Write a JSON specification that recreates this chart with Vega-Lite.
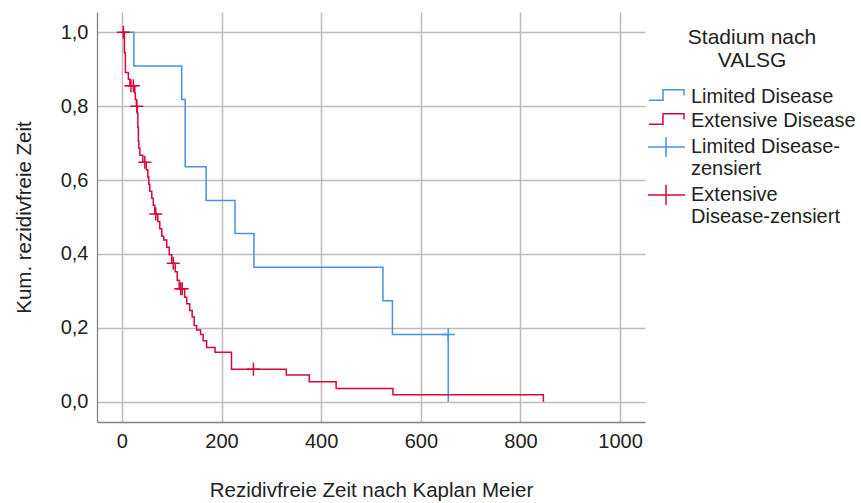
{
  "$schema": "https://vega.github.io/schema/vega-lite/v6.json",
  "width": 548,
  "height": 410,
  "autosize": {"type": "none"},
  "padding": {"left": 97, "top": 12, "right": 216, "bottom": 81},
  "background": "white",
  "config": {
    "view": {"stroke": null},
    "font": "Liberation Sans",
    "axis": {
      "grid": true,
      "gridColor": "#bcbcbc",
      "gridWidth": 1.5,
      "domainColor": "#808080",
      "domainWidth": 1.3,
      "ticks": false,
      "tickSize": 0,
      "labelFont": "Liberation Sans",
      "labelFontSize": 20,
      "labelColor": "#222222",
      "titleFont": "Liberation Sans",
      "titleFontSize": 20.5,
      "titleFontWeight": "normal",
      "titleColor": "#222222"
    }
  },
  "datasets": {
    "lines": [
      {"g": "Limited Disease", "i": 0, "t": 0, "s": 1.0},
      {"g": "Limited Disease", "i": 1, "t": 24, "s": 0.909},
      {"g": "Limited Disease", "i": 2, "t": 120, "s": 0.818},
      {"g": "Limited Disease", "i": 3, "t": 127, "s": 0.727},
      {"g": "Limited Disease", "i": 4, "t": 127, "s": 0.636},
      {"g": "Limited Disease", "i": 5, "t": 169, "s": 0.545},
      {"g": "Limited Disease", "i": 6, "t": 227, "s": 0.455},
      {"g": "Limited Disease", "i": 7, "t": 265, "s": 0.364},
      {"g": "Limited Disease", "i": 8, "t": 524, "s": 0.273},
      {"g": "Limited Disease", "i": 9, "t": 543, "s": 0.182},
      {"g": "Limited Disease", "i": 10, "t": 655, "s": 0.0},
      {"g": "Extensive Disease", "i": 0, "t": 0, "s": 1.0},
      {"g": "Extensive Disease", "i": 1, "t": 5, "s": 0.945},
      {"g": "Extensive Disease", "i": 2, "t": 7, "s": 0.891},
      {"g": "Extensive Disease", "i": 3, "t": 13, "s": 0.873},
      {"g": "Extensive Disease", "i": 4, "t": 16, "s": 0.855},
      {"g": "Extensive Disease", "i": 5, "t": 26, "s": 0.836},
      {"g": "Extensive Disease", "i": 6, "t": 27, "s": 0.818},
      {"g": "Extensive Disease", "i": 7, "t": 29, "s": 0.8},
      {"g": "Extensive Disease", "i": 8, "t": 31, "s": 0.781},
      {"g": "Extensive Disease", "i": 9, "t": 32, "s": 0.743},
      {"g": "Extensive Disease", "i": 10, "t": 33, "s": 0.705},
      {"g": "Extensive Disease", "i": 11, "t": 34, "s": 0.686},
      {"g": "Extensive Disease", "i": 12, "t": 36, "s": 0.667},
      {"g": "Extensive Disease", "i": 13, "t": 42, "s": 0.648},
      {"g": "Extensive Disease", "i": 14, "t": 49, "s": 0.628},
      {"g": "Extensive Disease", "i": 15, "t": 52, "s": 0.608},
      {"g": "Extensive Disease", "i": 16, "t": 54, "s": 0.589},
      {"g": "Extensive Disease", "i": 17, "t": 56, "s": 0.57},
      {"g": "Extensive Disease", "i": 18, "t": 60, "s": 0.551},
      {"g": "Extensive Disease", "i": 19, "t": 63, "s": 0.532},
      {"g": "Extensive Disease", "i": 20, "t": 66, "s": 0.508},
      {"g": "Extensive Disease", "i": 21, "t": 72, "s": 0.488},
      {"g": "Extensive Disease", "i": 22, "t": 76, "s": 0.468},
      {"g": "Extensive Disease", "i": 23, "t": 80, "s": 0.448},
      {"g": "Extensive Disease", "i": 24, "t": 84, "s": 0.438},
      {"g": "Extensive Disease", "i": 25, "t": 90, "s": 0.418},
      {"g": "Extensive Disease", "i": 26, "t": 95, "s": 0.398},
      {"g": "Extensive Disease", "i": 27, "t": 100, "s": 0.375},
      {"g": "Extensive Disease", "i": 28, "t": 107, "s": 0.352},
      {"g": "Extensive Disease", "i": 29, "t": 111, "s": 0.329},
      {"g": "Extensive Disease", "i": 30, "t": 115, "s": 0.306},
      {"g": "Extensive Disease", "i": 31, "t": 126, "s": 0.283},
      {"g": "Extensive Disease", "i": 32, "t": 130, "s": 0.265},
      {"g": "Extensive Disease", "i": 33, "t": 136, "s": 0.247},
      {"g": "Extensive Disease", "i": 34, "t": 141, "s": 0.229},
      {"g": "Extensive Disease", "i": 35, "t": 145, "s": 0.206},
      {"g": "Extensive Disease", "i": 36, "t": 150, "s": 0.194},
      {"g": "Extensive Disease", "i": 37, "t": 158, "s": 0.182},
      {"g": "Extensive Disease", "i": 38, "t": 163, "s": 0.165},
      {"g": "Extensive Disease", "i": 39, "t": 170, "s": 0.147},
      {"g": "Extensive Disease", "i": 40, "t": 187, "s": 0.134},
      {"g": "Extensive Disease", "i": 41, "t": 220, "s": 0.088},
      {"g": "Extensive Disease", "i": 42, "t": 330, "s": 0.072},
      {"g": "Extensive Disease", "i": 43, "t": 376, "s": 0.054},
      {"g": "Extensive Disease", "i": 44, "t": 430, "s": 0.036},
      {"g": "Extensive Disease", "i": 45, "t": 544, "s": 0.019},
      {"g": "Extensive Disease", "i": 46, "t": 846, "s": 0.0}
    ],
    "censors": [
      {"g": "Limited Disease-zensiert", "t": 655, "s": 0.182},
      {"g": "Extensive Disease-zensiert", "t": 3, "s": 1.0},
      {"g": "Extensive Disease-zensiert", "t": 18, "s": 0.855},
      {"g": "Extensive Disease-zensiert", "t": 23, "s": 0.855},
      {"g": "Extensive Disease-zensiert", "t": 30, "s": 0.8},
      {"g": "Extensive Disease-zensiert", "t": 46, "s": 0.648},
      {"g": "Extensive Disease-zensiert", "t": 68, "s": 0.508},
      {"g": "Extensive Disease-zensiert", "t": 103, "s": 0.375},
      {"g": "Extensive Disease-zensiert", "t": 118, "s": 0.306},
      {"g": "Extensive Disease-zensiert", "t": 121, "s": 0.306},
      {"g": "Extensive Disease-zensiert", "t": 264, "s": 0.088}
    ]
  },
  "encoding": {
    "x": {
      "field": "t",
      "type": "quantitative",
      "scale": {"domain": [-50, 1050], "nice": false, "zero": false},
      "axis": {
        "values": [0, 200, 400, 600, 800, 1000],
        "format": "d",
        "labelPadding": 9,
        "title": "Rezidivfreie Zeit nach Kaplan Meier",
        "titlePadding": 29
      }
    },
    "y": {
      "field": "s",
      "type": "quantitative",
      "scale": {"domain": [-0.055, 1.055], "nice": false, "zero": false},
      "axis": {
        "values": [0, 0.2, 0.4, 0.6, 0.8, 1],
        "labelExpr": "replace(format(datum.value, '.1f'), '.', ',')",
        "labelPadding": 9,
        "title": "Kum. rezidivfreie Zeit",
        "titlePadding": 26
      }
    },
    "color": {
      "field": "g",
      "type": "nominal",
      "scale": {
        "domain": ["Limited Disease", "Extensive Disease", "Limited Disease-zensiert", "Extensive Disease-zensiert"],
        "range": ["#4a90e2", "#d6073c", "#4a90e2", "#d6073c"]
      },
      "legend": {
        "orient": "none",
        "legendX": 552,
        "legendY": 15,
        "direction": "vertical",
        "padding": 0,
        "title": ["Stadium nach", "VALSG"],
        "titleAlign": "center",
        "titleAnchor": "middle",
        "titleFont": "Liberation Sans",
        "titleFontSize": 21,
        "titleFontWeight": "normal",
        "titleLineHeight": 23,
        "titlePadding": 16,
        "titleColor": "#222222",
        "labelFont": "Liberation Sans",
        "labelFontSize": 20,
        "labelColor": "#222222",
        "labelLimit": 260,
        "labelOffset": 22,
        "labelLineHeight": 19,
        "rowPadding": 3,
        "symbolSize": 256,
        "symbolStrokeWidth": 1.5,
        "symbolOffset": 0,
        "labelExpr": "datum.label == 'Limited Disease-zensiert' ? ['Limited Disease-', 'zensiert'] : datum.label == 'Extensive Disease-zensiert' ? ['Extensive', 'Disease-zensiert'] : datum.label",
        "encode": {
          "symbols": {
            "update": {
              "shape": {"signal": "indexof(datum.value, 'zensiert') >= 0 ? 'M-1.375,0L3.25,0M0.875,-1.25L0.875,1.25' : 'M-1.25,0.4L0.5,0.4L0.5,-0.9L3.125,-0.9L3.125,-0.2'"},
              "fill": {"value": "transparent"},
              "stroke": {"scale": "color", "field": "value"},
              "strokeWidth": {"value": 1.5},
              "opacity": {"value": 1}
            }
          }
        }
      }
    }
  },
  "layer": [
    {
      "data": {"name": "lines"},
      "mark": {"type": "line", "interpolate": "step-after", "strokeWidth": 1.5},
      "encoding": {"order": {"field": "i", "type": "quantitative"}}
    },
    {
      "data": {"name": "censors"},
      "mark": {"type": "point", "shape": "M-1,0L1,0M0,-1L0,1", "size": 169, "filled": false, "strokeWidth": 1.5, "opacity": 1}
    }
  ]
}
